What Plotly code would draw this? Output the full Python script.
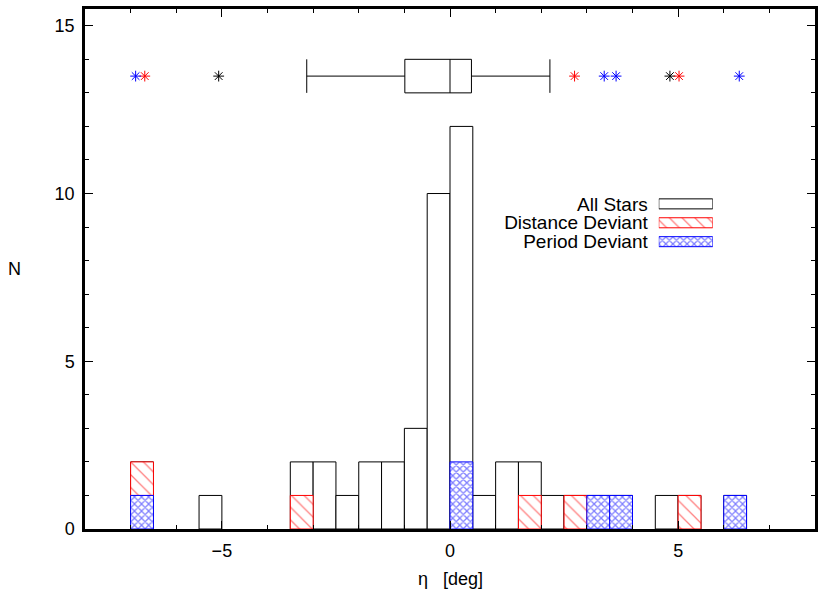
import plotly.graph_objects as go

# histogram of eta, bins 0.5 deg wide (bin centres)
all_bins = [-6.75, -5.25, -3.25, -2.75, -2.25, -1.75, -1.25, -0.75, -0.25, 0.25,
            0.75, 1.25, 1.75, 2.25, 2.75, 3.25, 3.75, 4.75, 5.25, 6.25]
all_counts = [2, 1, 2, 2, 1, 2, 2, 3, 10, 12, 1, 2, 2, 1, 1, 1, 1, 1, 1, 1]

dist_bins = [-6.75, -3.25, 1.75, 2.75, 5.25]
dist_counts = [1, 1, 1, 1, 1]

period_bins = [-6.75, 0.25, 3.25, 3.75, 6.25]
period_counts = [1, 2, 1, 1, 1]

# box plot summary of all stars
box_q1 = -0.99
box_median = 0.0
box_q3 = 0.47
box_low = -3.14
box_high = 2.19

# individual deviant stars drawn at the box level
out_all = [-5.07, 4.82]
out_dist = [-6.69, 2.73, 5.02]
out_period = [-6.89, 3.38, 3.64, 6.34]

legend_names = ["All Stars", "Distance Deviant", "Period Deviant"]

bin_width = 0.5
box_pos = 13.5
font = "Liberation Sans"

# distance deviants sit on top of the period deviants in the same bin
period_lookup = dict(zip(period_bins, period_counts))
dist_base = [period_lookup.get(b, 0) for b in dist_bins]

red_pattern = dict(shape="\\", fgcolor="red", bgcolor="white", size=9, solidity=0.14)
blue_pattern = dict(shape="x", fgcolor="blue", bgcolor="white", size=5, solidity=0.45)

fig = go.Figure()

fig.add_trace(go.Bar(x=all_bins, y=all_counts, width=bin_width,
                     marker=dict(color="white", line=dict(color="black", width=1))))
fig.add_trace(go.Bar(x=dist_bins, y=dist_counts, base=dist_base, width=bin_width,
                     marker=dict(color="white", pattern=red_pattern,
                                 line=dict(color="red", width=1))))
fig.add_trace(go.Bar(x=period_bins, y=period_counts, width=bin_width,
                     marker=dict(color="white", pattern=blue_pattern,
                                 line=dict(color="blue", width=1))))

fig.add_trace(go.Box(orientation="h", y=[box_pos], q1=[box_q1], median=[box_median],
                     q3=[box_q3], lowerfence=[box_low], upperfence=[box_high],
                     width=1, whiskerwidth=1, boxpoints=False,
                     fillcolor="rgba(0,0,0,0)", line=dict(color="black", width=1)))

for xs, col in [(out_all, "black"), (out_dist, "red"), (out_period, "blue")]:
    fig.add_trace(go.Scatter(x=xs, y=[box_pos] * len(xs), mode="markers",
                             marker=dict(symbol="asterisk-open", size=9, color=col,
                                         line=dict(color=col, width=1))))

# legend key on its own small axis, text left of the sample like gnuplot
key_styles = [
    dict(color="white", line=dict(color="black", width=1)),
    dict(color="white", pattern=red_pattern, line=dict(color="red", width=1)),
    dict(color="white", pattern=blue_pattern, line=dict(color="blue", width=1)),
]
for i, st in enumerate(key_styles):
    fig.add_trace(go.Bar(x=[1], y=[i], base=0, orientation="h", width=0.53,
                         marker=st, xaxis="x2", yaxis="y2"))

axis_common = dict(showline=True, linecolor="black", linewidth=2.5, mirror="allticks",
                   ticks="inside", ticklen=8, tickwidth=1, tickcolor="black",
                   showgrid=False, zeroline=False,
                   tickfont=dict(family=font, size=18, color="black"))

fig.update_layout(
    width=830, height=595,
    margin=dict(l=85, r=15, t=6, b=66),
    paper_bgcolor="white", plot_bgcolor="white",
    barmode="overlay", showlegend=False,
    font=dict(family=font, size=18, color="black"),
    xaxis=dict(range=[-8, 8], tickvals=[-5, 0, 5], ticklabelstandoff=4,
               minor=dict(dtick=1, ticklen=4, ticks="inside", tickcolor="black"),
               **axis_common),
    yaxis=dict(range=[0, 15.5], tickvals=[0, 5, 10, 15], ticklabelstandoff=4,
               minor=dict(dtick=1, ticklen=4, ticks="inside", tickcolor="black"),
               **axis_common),
    xaxis2=dict(domain=[0.786, 0.860], range=[0, 1], visible=False, anchor="y2"),
    yaxis2=dict(domain=[0.5344, 0.6434], range=[2.5, -0.5], anchor="x2",
                tickvals=[0, 1, 2], ticktext=legend_names, showline=False,
                showgrid=False, zeroline=False, ticks="", ticklabelstandoff=10,
                tickfont=dict(family=font, size=19, color="black")),
    annotations=[
        dict(text="η\u00a0\u00a0\u00a0[deg]", xref="paper", yref="paper", x=0.5,
             y=-0.0956, xanchor="center", yanchor="middle", showarrow=False,
             font=dict(family=font, size=18)),
        dict(text="N", xref="paper", yref="paper", x=-0.097, y=0.5,
             xanchor="center", yanchor="middle", showarrow=False,
             font=dict(family=font, size=18)),
    ],
)

# drop the browser's default body margin so the figure sits at the page corner
fig.write_html("out.html", config={"displayModeBar": False},
               post_script="document.body.style.margin='0';")
